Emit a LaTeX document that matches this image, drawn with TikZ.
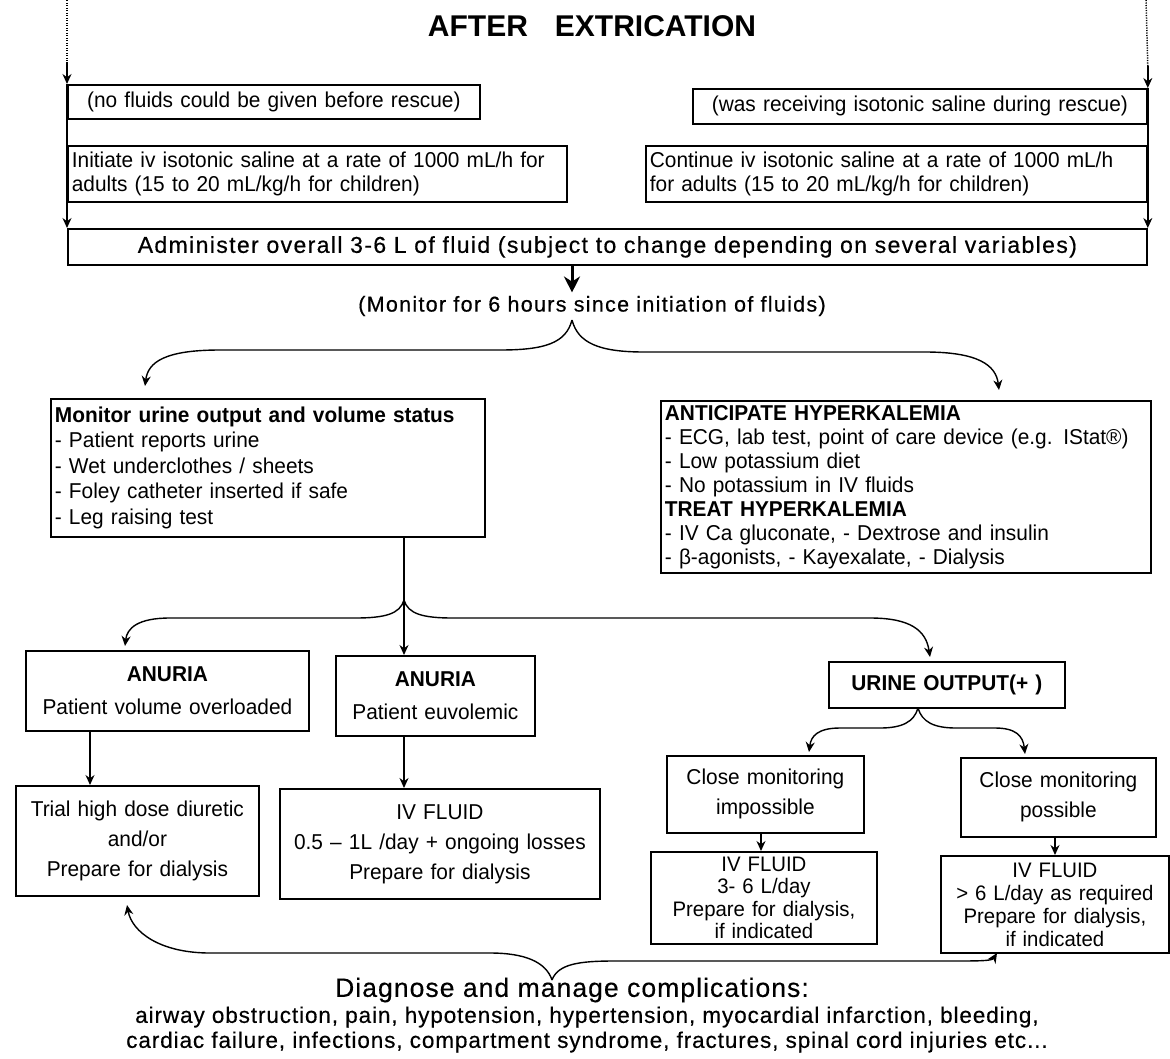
\documentclass[tikz,border=0pt]{standalone}
\usepackage{fontspec}
\setmainfont{Liberation Sans}
\newfontfamily\cond[FakeStretch=0.97]{Liberation Sans}
\newfontfamily\wide[LetterSpace=6,FakeBold=0.5]{Liberation Sans}
\newfontfamily\bott[LetterSpace=4,FakeBold=0.4]{Liberation Sans}
\usetikzlibrary{arrows.meta}
\begin{document}
\begin{tikzpicture}[x=1pt,y=-1pt,
  box/.style={draw,line width=1.8pt,inner xsep=4pt,inner ysep=2pt,anchor=north west,font=\cond\fontsize{21.5}{24}\selectfont},
  arr/.style={line width=1.4pt,-{Stealth[length=10pt,width=9pt]}},
  dots/.style={line width=1.5pt,dash pattern=on 1.2pt off 1.3pt},
  ln/.style={line width=1.4pt},
  bigarr/.style={line width=3pt,-{Stealth[length=16pt,width=16pt]}}]
\useasboundingbox (0,0) rectangle (1170,1058);
% title
\node[font=\bfseries\fontsize{30}{32}\selectfont] (title) at (592,26) {AFTER\hspace{0.9em}EXTRICATION};
% top boxes
\node[box,text width=404pt,minimum height=34pt,align=center] (A1) at (67,84) {(no fluids could be given before rescue)};
\node[box,text width=491pt,minimum height=56pt,align=left] (A2) at (67,145) {Initiate iv isotonic saline at a rate of 1000 mL/h for\\adults (15 to 20 mL/kg/h for children)};
\node[box,text width=446pt,minimum height=35pt,align=center] (B1) at (692,88) {(was receiving isotonic saline during rescue)};
\node[box,text width=493pt,minimum height=56pt,align=left] (B2) at (645,145) {Continue iv isotonic saline at a rate of 1000 mL/h\\for adults (15 to 20 mL/kg/h for children)};
\node[box,text width=1071pt,minimum height=36pt,align=center,font=\wide\fontsize{23}{24}\selectfont] (C) at (67,228) {Administer overall 3-6 L of fluid (subject to change depending on several variables)};
\coordinate (tl) at (67,0);
\coordinate (tr) at (1146,0);
\draw[dots] (tl) -- ([yshift=22pt]A1.north west);
\draw[arr] ([yshift=22pt]A1.north west) -- (A1.north west);
\draw[arr] (A1.north west) -- (C.north west);
\draw[dots] (tr) -- ([yshift=22pt]B1.north east);
\draw[arr] ([yshift=22pt]B1.north east) -- (B1.north east);
\draw[arr] (B1.north east) -- (C.north east);
% monitor
\node[font=\wide\fontsize{21.5}{24}\selectfont] (mon) at (592,306) {(Monitor for 6 hours since initiation of fluids)};
\coordinate (cx) at (572,0);
\draw[bigarr] (C.south -| cx) -- (mon.north -| cx);
% D and E
\node[box,text width=426pt,minimum height=138pt,align=left,font=\cond\fontsize{21.5}{25.5}\selectfont] (D) at (50,398) {{\bfseries Monitor urine output and volume status}\\- Patient reports urine\\- Wet underclothes / sheets\\- Foley catheter inserted if safe\\- Leg raising test};
\node[box,text width=482pt,minimum height=172pt,align=left] (E) at (660,400) {{\bfseries ANTICIPATE HYPERKALEMIA}\\- ECG, lab test, point of care device (e.g. IStat®)\\- Low potassium diet\\- No potassium in IV fluids\\{\bfseries TREAT HYPERKALEMIA}\\- IV Ca gluconate, - Dextrose and insulin\\- β-agonists, - Kayexalate, - Dialysis};
\coordinate (b1) at (572,320);
\draw[arr] (b1) .. controls (566,343) and (545,350) .. (500,350) -- (220,350) .. controls (165,350) and (148,362) .. (145,386);
\draw[arr] (b1) .. controls (578,343) and (599,352) .. (644,352) -- (925,352) .. controls (978,352) and (996,365) .. (999,390);
% second level
\node[box,text width=275pt,minimum height=80pt,align=center,font=\cond\fontsize{21.5}{33}\selectfont] (F) at (25,650) {{\bfseries ANURIA}\\Patient volume overloaded};
\node[box,text width=191pt,minimum height=80pt,align=center,font=\cond\fontsize{21.5}{33}\selectfont] (G) at (335,655) {{\bfseries ANURIA}\\Patient euvolemic};
\node[box,text width=228pt,minimum height=46pt,align=center] (J) at (828,661) {{\bfseries URINE OUTPUT(+ )}};
\coordinate (b2) at (404,600);
\draw[ln] (D.south -| b2) -- (b2);
\draw[arr] (b2) .. controls (400,614) and (385,618) .. (355,618) -- (170,618) .. controls (138,618) and (127,628) .. (125,646);
\draw[arr] (b2) -- (G.north -| b2);
\draw[arr] (b2) .. controls (408,614) and (423,618) .. (453,618) -- (870,618) .. controls (910,618) and (926,630) .. (930,657);
% third level
\node[box,text width=235pt,minimum height=110pt,align=center,font=\cond\fontsize{21.5}{30}\selectfont] (H) at (15,785) {Trial high dose diuretic\\and/or\\Prepare for dialysis};
\node[box,text width=312pt,minimum height=110pt,align=center,font=\cond\fontsize{21.5}{30}\selectfont] (I) at (279,788) {IV FLUID\\0.5 – 1L /day + ongoing losses\\Prepare for dialysis};
\coordinate (fx) at (90,0);
\draw[arr] (F.south -| fx) -- (H.north -| fx);
\draw[arr] (G.south -| b2) -- (I.north -| b2);
\node[box,text width=189pt,minimum height=77pt,align=center,font=\cond\fontsize{21.5}{30}\selectfont] (K) at (666,755) {Close monitoring\\impossible};
\node[box,text width=187pt,minimum height=79pt,align=center,font=\cond\fontsize{21.5}{30}\selectfont] (L) at (960,757) {Close monitoring\\possible};
\coordinate (b3) at (918,708);
\draw[arr] (b3) .. controls (914,722) and (902,728) .. (880,728) -- (840,728) .. controls (818,728) and (811,736) .. (809,752);
\draw[arr] (b3) .. controls (922,722) and (934,728) .. (956,728) -- (995,728) .. controls (1016,728) and (1023,736) .. (1025,754);
\node[box,text width=218pt,minimum height=92pt,align=center,font=\cond\fontsize{21}{22.5}\selectfont] (M) at (650,851) {IV FLUID\\3- 6 L/day\\Prepare for dialysis,\\if indicated};
\node[box,text width=220pt,minimum height=97pt,align=center,font=\cond\fontsize{21}{23}\selectfont] (N) at (940,855) {IV FLUID\\> 6 L/day as required\\Prepare for dialysis,\\if indicated};
\coordinate (kx) at (761,0);
\coordinate (lx) at (1055,0);
\draw[arr] (K.south -| kx) -- (M.north -| kx);
\draw[arr] (L.south -| lx) -- (N.north -| lx);
% bottom
\node[font=\bott\fontsize{26.5}{28}\selectfont] (diag) at (572,990) {Diagnose and manage complications:};
\node[font=\bott\fontsize{22.5}{25}\selectfont,align=center,anchor=north] (list) at (587,1003) {airway obstruction, pain, hypotension, hypertension, myocardial infarction, bleeding,\\cardiac failure, infections, compartment syndrome, fractures, spinal cord injuries etc...};
\coordinate (b4) at (552,980);
\draw[arr] (b4) .. controls (546,962) and (525,953) .. (490,953) -- (210,953) .. controls (160,953) and (132,932) .. (127,905);
\draw[arr] (b4) .. controls (558,964) and (579,961) .. (614,961) -- (950,961) .. controls (978,961) and (992,961) .. (997,953);
\end{tikzpicture}
\end{document}
